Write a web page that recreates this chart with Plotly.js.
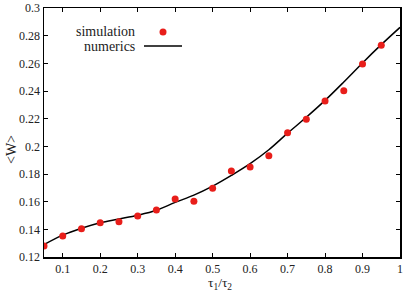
<!DOCTYPE html>
<html><head><meta charset="utf-8">
<script src="https://cdn.plot.ly/plotly-3.0.1.min.js"></script>
<style>html,body{margin:0;padding:0;background:#fff}#c{width:415px;height:291px}</style>
</head><body><div id="c"></div>
<script>
const simX = [0.05,0.10,0.15,0.20,0.25,0.30,0.35,0.40,0.45,0.50,0.55,0.60,0.65,0.70,0.75,0.80,0.85,0.90,0.95];
const simY = [0.128,0.1352,0.1405,0.1448,0.1455,0.1496,0.154,0.162,0.1603,0.1697,0.1822,0.185,0.1932,0.2099,0.2195,0.2328,0.2402,0.2595,0.273];
const numX = [0.05,0.10,0.15,0.20,0.25,0.30,0.35,0.40,0.45,0.50,0.55,0.60,0.65,0.70,0.75,0.80,0.85,0.90,0.95,1.00];
const numY = [0.129,0.1358,0.1408,0.1448,0.1475,0.1502,0.1538,0.1595,0.1647,0.1712,0.179,0.1875,0.1975,0.2095,0.221,0.2332,0.2465,0.2603,0.2735,0.286];
const xTicks = [0.1,0.2,0.3,0.4,0.5,0.6,0.7,0.8,0.9,1];
const xTickText = ['0.1','0.2','0.3','0.4','0.5','0.6','0.7','0.8','0.9','1'];
const yTicks = [0.12,0.14,0.16,0.18,0.2,0.22,0.24,0.26,0.28,0.3];
const yTickText = ['0.12','0.14','0.16','0.18','0.2','0.22','0.24','0.26','0.28','0.3'];
const legendNames = ['simulation','numerics'];
const xTitle = 'τ<sub>1</sub>/τ<sub>2</sub>';
const yTitle = '&lt;W&gt;';
const RED = 'rgb(232,30,26)';
const FONT = '"Liberation Serif", serif';

const traces = [
  {x: numX, y: numY, mode: 'lines', line: {color: 'black', width: 1.5, shape: 'spline', smoothing: 1}, name: legendNames[1], showlegend: false, hoverinfo: 'skip'},
  {x: simX, y: simY, mode: 'markers', marker: {color: RED, size: 7}, name: legendNames[0], showlegend: false}
];
const axisCommon = {showgrid: false, zeroline: false, showline: true, linecolor: 'black', linewidth: 1.5, mirror: 'allticks', ticks: 'inside', ticklen: 4, tickwidth: 1, tickcolor: 'black', tickfont: {family: FONT, size: 12, color: '#222'}, automargin: false};
const W = 356, H = 249, L = 44, B = 257;
const layout = {
  width: 415, height: 291,
  font: {family: FONT},
  margin: {l: 44, r: 15, t: 8, b: 34},
  paper_bgcolor: 'white', plot_bgcolor: 'white',
  showlegend: false,
  xaxis: Object.assign({}, axisCommon, {range: [0.05, 1], tickvals: xTicks, ticktext: xTickText}),
  yaxis: Object.assign({}, axisCommon, {range: [0.12, 0.3], tickvals: yTicks, ticktext: yTickText}),
  annotations: [
    {xref: 'paper', yref: 'paper', x: (220-L)/W, y: (B-283)/H, xanchor: 'center', yanchor: 'middle', text: xTitle, showarrow: false, font: {family: FONT, size: 13.5, color: '#222'}},
    {xref: 'paper', yref: 'paper', x: (11-L)/W, y: (B-150)/H, xanchor: 'center', yanchor: 'middle', text: yTitle, textangle: -90, showarrow: false, font: {family: FONT, size: 14, color: '#222'}},
    {xref: 'paper', yref: 'paper', x: (137-L)/W, y: (B-32)/H, xanchor: 'right', yanchor: 'middle', text: legendNames[0], showarrow: false, font: {family: FONT, size: 14, color: '#222'}},
    {xref: 'paper', yref: 'paper', x: (137-L)/W, y: (B-46)/H, xanchor: 'right', yanchor: 'middle', text: legendNames[1], showarrow: false, font: {family: FONT, size: 14, color: '#222'}}
  ],
  shapes: [
    {type: 'line', xref: 'paper', yref: 'paper', x0: (144-L)/W, x1: (182-L)/W, y0: (B-46)/H, y1: (B-46)/H, line: {color: 'black', width: 1.5}},
    {type: 'circle', xref: 'paper', yref: 'paper', x0: (159.5-L)/W, x1: (166.5-L)/W, y0: (B-35.5)/H, y1: (B-28.5)/H, fillcolor: RED, line: {width: 0}}
  ]
};
Plotly.newPlot('c', traces, layout, {staticPlot: true, displayModeBar: false});
</script></body></html>
